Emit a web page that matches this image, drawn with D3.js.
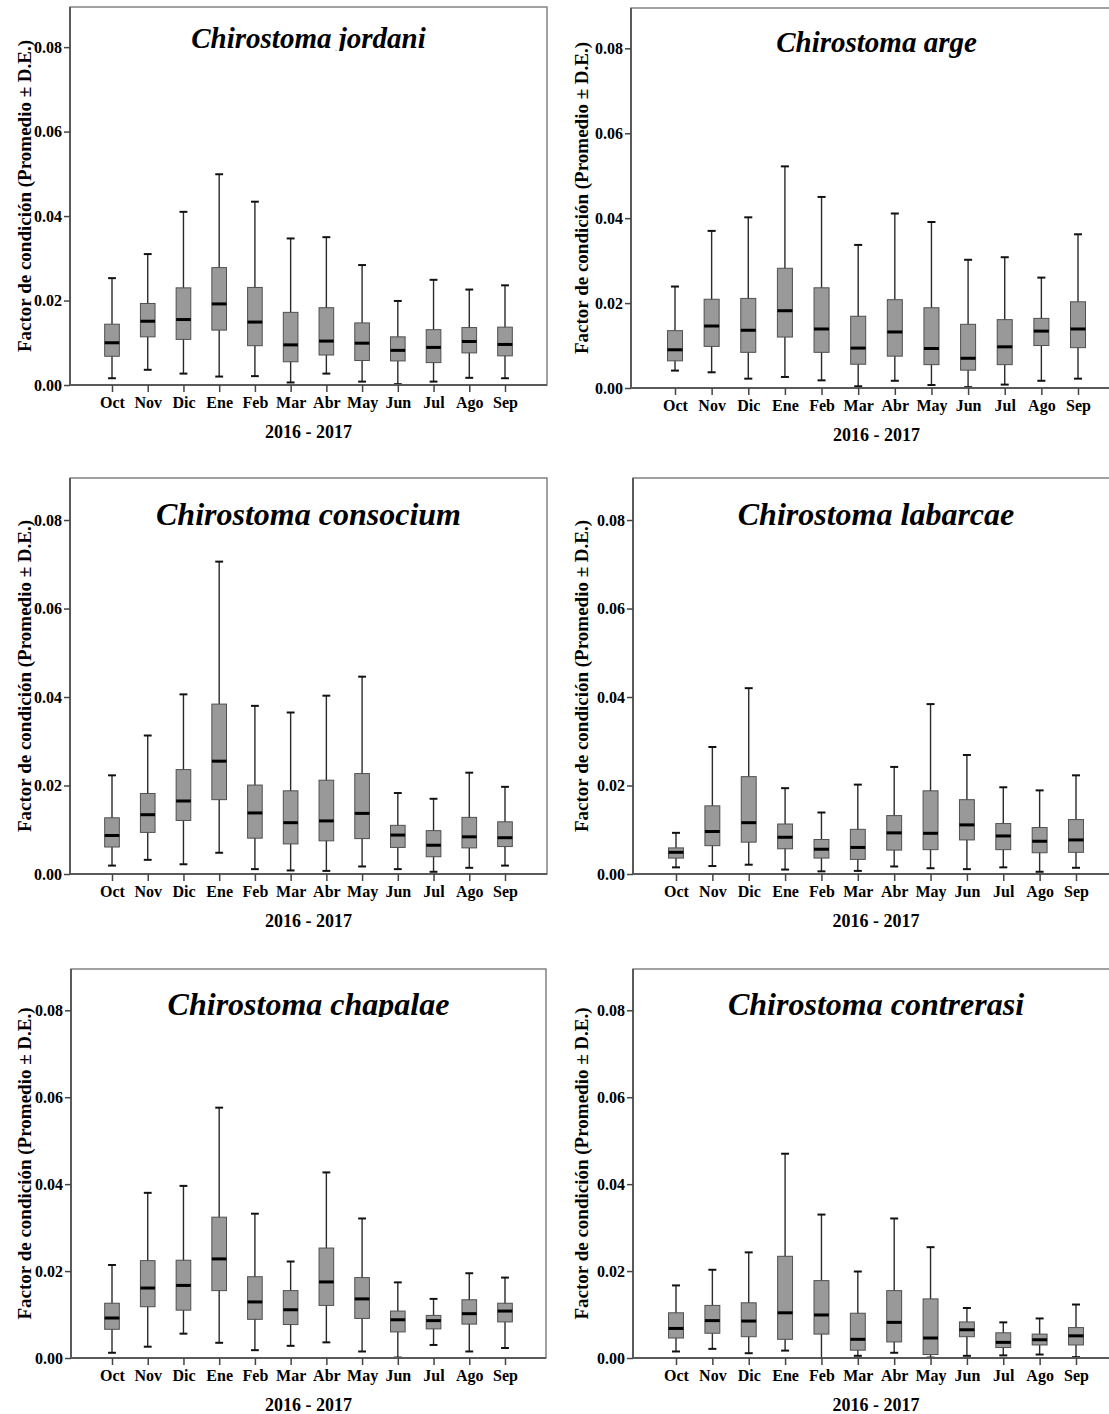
<!DOCTYPE html>
<html>
<head>
<meta charset="utf-8">
<script src="https://cdn.jsdelivr.net/npm/d3@7"></script>
<style>
body { margin: 0; background: #fff; }
svg text { font-family: "Liberation Serif", "Times New Roman", serif; }
</style>
</head>
<body>
<script>
var months = ["Oct", "Nov", "Dic", "Ene", "Feb", "Mar", "Abr", "May", "Jun", "Jul", "Ago", "Sep"];
var yTicks = [0, 0.02, 0.04, 0.06, 0.08];
var yMax = 0.0895;
var yLabel = "Factor de condición (Promedio ± D.E.)";
var xLabel = "2016 - 2017";

// each row: [low whisker, q1, median, q3, high whisker]
var jordani = [
  [0.0016, 0.0068, 0.0100, 0.0144, 0.0253],
  [0.0036, 0.0114, 0.0151, 0.0193, 0.0310],
  [0.0027, 0.0108, 0.0155, 0.0230, 0.0410],
  [0.0020, 0.0130, 0.0192, 0.0278, 0.0499],
  [0.0021, 0.0093, 0.0149, 0.0231, 0.0434],
  [0.0006, 0.0055, 0.0095, 0.0172, 0.0347],
  [0.0027, 0.0071, 0.0104, 0.0183, 0.0350],
  [0.0008, 0.0058, 0.0099, 0.0147, 0.0284],
  [0.0002, 0.0057, 0.0082, 0.0114, 0.0199],
  [0.0008, 0.0053, 0.0089, 0.0131, 0.0249],
  [0.0017, 0.0076, 0.0103, 0.0136, 0.0226],
  [0.0016, 0.0069, 0.0096, 0.0137, 0.0236]
];
var arge = [
  [0.0041, 0.0064, 0.0090, 0.0135, 0.0239],
  [0.0037, 0.0098, 0.0146, 0.0209, 0.0370],
  [0.0022, 0.0084, 0.0136, 0.0211, 0.0402],
  [0.0026, 0.0120, 0.0182, 0.0282, 0.0522],
  [0.0018, 0.0084, 0.0139, 0.0236, 0.0450],
  [0.0004, 0.0056, 0.0094, 0.0169, 0.0337],
  [0.0017, 0.0075, 0.0132, 0.0208, 0.0411],
  [0.0007, 0.0055, 0.0093, 0.0189, 0.0391],
  [0.0002, 0.0042, 0.0070, 0.0150, 0.0302],
  [0.0008, 0.0055, 0.0097, 0.0161, 0.0308],
  [0.0017, 0.0100, 0.0134, 0.0164, 0.0260],
  [0.0022, 0.0095, 0.0139, 0.0203, 0.0362]
];
var consocium = [
  [0.0019, 0.0061, 0.0087, 0.0127, 0.0223],
  [0.0032, 0.0094, 0.0134, 0.0182, 0.0313],
  [0.0022, 0.0121, 0.0165, 0.0236, 0.0406],
  [0.0048, 0.0168, 0.0255, 0.0384, 0.0706],
  [0.0011, 0.0081, 0.0138, 0.0201, 0.0380],
  [0.0008, 0.0068, 0.0116, 0.0188, 0.0365],
  [0.0007, 0.0075, 0.0120, 0.0212, 0.0403],
  [0.0017, 0.0080, 0.0137, 0.0227, 0.0446],
  [0.0011, 0.0060, 0.0088, 0.0110, 0.0183],
  [0.0005, 0.0039, 0.0065, 0.0098, 0.0170],
  [0.0014, 0.0059, 0.0084, 0.0128, 0.0229],
  [0.0019, 0.0062, 0.0082, 0.0118, 0.0197]
];
var labarcae = [
  [0.0015, 0.0036, 0.0049, 0.0059, 0.0093],
  [0.0018, 0.0064, 0.0096, 0.0154, 0.0287],
  [0.0021, 0.0072, 0.0116, 0.0220, 0.0420],
  [0.0010, 0.0057, 0.0083, 0.0113, 0.0194],
  [0.0006, 0.0036, 0.0056, 0.0078, 0.0139],
  [0.0007, 0.0033, 0.0060, 0.0101, 0.0202],
  [0.0017, 0.0054, 0.0093, 0.0132, 0.0242],
  [0.0013, 0.0055, 0.0092, 0.0188, 0.0384],
  [0.0011, 0.0077, 0.0111, 0.0168, 0.0269],
  [0.0015, 0.0055, 0.0086, 0.0114, 0.0196],
  [0.0005, 0.0048, 0.0074, 0.0105, 0.0189],
  [0.0014, 0.0049, 0.0077, 0.0123, 0.0223]
];
var chapalae = [
  [0.0012, 0.0066, 0.0092, 0.0126, 0.0214],
  [0.0026, 0.0118, 0.0161, 0.0224, 0.0380],
  [0.0056, 0.0110, 0.0167, 0.0225, 0.0396],
  [0.0035, 0.0155, 0.0228, 0.0324, 0.0576],
  [0.0018, 0.0089, 0.0129, 0.0187, 0.0332],
  [0.0028, 0.0077, 0.0111, 0.0155, 0.0222],
  [0.0036, 0.0121, 0.0175, 0.0253, 0.0427],
  [0.0015, 0.0091, 0.0136, 0.0185, 0.0321],
  [0.0001, 0.0060, 0.0088, 0.0108, 0.0174],
  [0.0030, 0.0067, 0.0086, 0.0098, 0.0136],
  [0.0015, 0.0078, 0.0102, 0.0134, 0.0195],
  [0.0023, 0.0083, 0.0108, 0.0126, 0.0185]
];
var contrerasi = [
  [0.0015, 0.0046, 0.0068, 0.0104, 0.0167],
  [0.0021, 0.0057, 0.0086, 0.0121, 0.0203],
  [0.0011, 0.0049, 0.0085, 0.0127, 0.0243],
  [0.0017, 0.0043, 0.0104, 0.0234, 0.0470],
  [0.0000, 0.0055, 0.0099, 0.0178, 0.0330],
  [0.0005, 0.0018, 0.0043, 0.0103, 0.0199],
  [0.0012, 0.0037, 0.0082, 0.0155, 0.0321],
  [0.0001, 0.0008, 0.0046, 0.0136, 0.0255],
  [0.0005, 0.0049, 0.0065, 0.0083, 0.0115],
  [0.0006, 0.0024, 0.0036, 0.0058, 0.0082],
  [0.0008, 0.0030, 0.0042, 0.0055, 0.0091],
  [0.0002, 0.0030, 0.0051, 0.0070, 0.0123]
];

var species = [
  {name: "Chirostoma jordani", data: jordani},
  {name: "Chirostoma arge", data: arge},
  {name: "Chirostoma consocium", data: consocium},
  {name: "Chirostoma labarcae", data: labarcae},
  {name: "Chirostoma chapalae", data: chapalae},
  {name: "Chirostoma contrerasi", data: contrerasi}
];

// where each panel sits on the page
var panels = [
  {left: 70,  top: 7,   axis: 385,  first: 112, last: 505,  titleY: 48,   titleSize: 29, clip: 51,   labelX: 31},
  {left: 631, top: 8,   axis: 388,  first: 675, last: 1078, titleY: 52,   titleSize: 29, clip: null, labelX: 588},
  {left: 70,  top: 478, axis: 874,  first: 112, last: 505,  titleY: 525,  titleSize: 32, clip: null, labelX: 31},
  {left: 633, top: 478, axis: 874,  first: 676, last: 1076, titleY: 525,  titleSize: 32, clip: null, labelX: 588},
  {left: 71,  top: 969, axis: 1358, first: 112, last: 505,  titleY: 1015, titleSize: 32, clip: 1017, labelX: 31},
  {left: 633, top: 969, axis: 1358, first: 676, last: 1076, titleY: 1015, titleSize: 32, clip: null, labelX: 588}
];

var svg = d3.select("body")
            .append("svg")
            .attr("width", 1109)
            .attr("height", 1414);

var defs = svg.append("defs");

panels.forEach(function (p, i) {
  var sp = species[i];
  var right = p.left + 2 * (p.first - p.left) + (p.last - p.first);
  var mid = (p.first + p.last) / 2;

  var x = d3.scalePoint().domain(months).range([p.first, p.last]);
  var y = d3.scaleLinear().domain([0, yMax]).range([p.axis, p.top]);
  var boxW = x.step() * 0.41;
  var capW = x.step() * 0.22;

  var g = svg.append("g").attr("class", "panel");

  // frame
  g.append("rect")
   .attr("x", p.left)
   .attr("y", p.top)
   .attr("width", right - p.left)
   .attr("height", p.axis - p.top)
   .attr("fill", "none")
   .attr("stroke", "#7a7a7a")
   .attr("stroke-width", 1.4);

  // title (some are cut off at the baseline in the original)
  if (p.clip) {
    defs.append("clipPath")
        .attr("id", "tclip" + i)
        .append("rect")
        .attr("x", p.left)
        .attr("y", p.top)
        .attr("width", right - p.left)
        .attr("height", p.clip - p.top);
  }
  g.append("text")
   .attr("x", mid)
   .attr("y", p.titleY)
   .attr("text-anchor", "middle")
   .attr("font-size", p.titleSize)
   .attr("font-weight", "bold")
   .attr("font-style", "italic")
   .attr("clip-path", p.clip ? "url(#tclip" + i + ")" : null)
   .text(sp.name);

  // boxes
  var box = g.selectAll(".box")
             .data(sp.data)
             .enter()
             .append("g")
             .attr("class", "box")
             .attr("transform", (d, j) => "translate(" + x(months[j]) + ",0)");

  box.append("line")
     .attr("y1", d => y(d[0]))
     .attr("y2", d => y(d[4]))
     .attr("stroke", "#2a2a2a")
     .attr("stroke-width", 1.4);

  box.append("rect")
     .attr("x", -boxW / 2)
     .attr("width", boxW)
     .attr("y", d => y(d[3]))
     .attr("height", d => y(d[1]) - y(d[3]))
     .attr("fill", "#999999")
     .attr("stroke", "#505050")
     .attr("stroke-width", 1);

  box.append("line")
     .attr("x1", -boxW / 2)
     .attr("x2", boxW / 2)
     .attr("y1", d => y(d[2]))
     .attr("y2", d => y(d[2]))
     .attr("stroke", "#000")
     .attr("stroke-width", 3);

  [0, 4].forEach(function (k) {
    box.append("line")
       .attr("x1", -capW / 2)
       .attr("x2", capW / 2)
       .attr("y1", d => y(d[k]))
       .attr("y2", d => y(d[k]))
       .attr("stroke", "#111")
       .attr("stroke-width", 2);
  });

  // axes
  var yAxis = g.append("g")
               .attr("transform", "translate(" + p.left + ",0)")
               .call(d3.axisLeft(y).tickValues(yTicks).tickFormat(d3.format(".2f")).tickSize(6).tickPadding(2));
  var xAxis = g.append("g")
               .attr("transform", "translate(0," + p.axis + ")")
               .call(d3.axisBottom(x).tickSize(7));

  [yAxis, xAxis].forEach(function (a) {
    a.attr("font-family", null).attr("font-size", 16).attr("font-weight", "bold");
    a.select(".domain").attr("stroke", "#5a5a5a").attr("stroke-width", 2);
    a.selectAll(".tick line").attr("stroke", "#444").attr("stroke-width", 1.5);
    a.selectAll(".tick text").attr("fill", "#000");
  });
  yAxis.select(".domain").attr("d", "M0," + p.top + "V" + p.axis);
  xAxis.select(".domain").attr("d", "M" + p.left + ",0H" + right);
  xAxis.selectAll(".tick text").attr("y", 23).attr("dy", null);

  g.append("text")
   .attr("x", mid)
   .attr("y", p.axis + 53)
   .attr("text-anchor", "middle")
   .attr("font-size", 18)
   .attr("font-weight", "bold")
   .text(xLabel);

  g.append("text")
   .attr("transform", "translate(" + p.labelX + "," + (p.top + p.axis) / 2 + ")rotate(-90)")
   .attr("text-anchor", "middle")
   .attr("font-size", 19)
   .attr("font-weight", "bold")
   .text(yLabel);
});
</script>
</body>
</html>
